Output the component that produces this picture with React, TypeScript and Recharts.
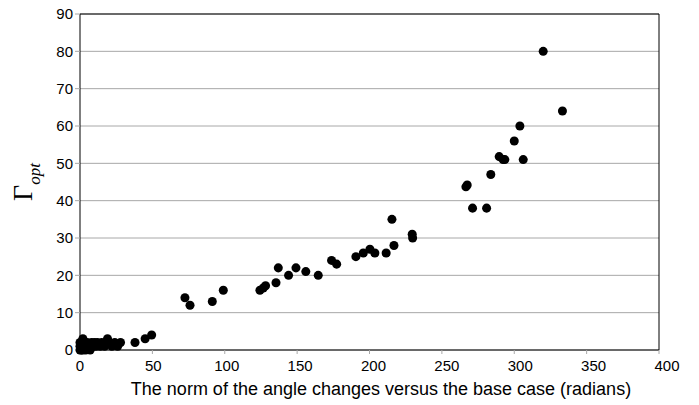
import React from "react";
import {
  ScatterChart,
  Scatter,
  XAxis,
  YAxis,
  ZAxis,
  CartesianGrid,
  ReferenceLine,
} from "recharts";

// Angle-change norm (radians)
const normValues: number[] = [
  0, 0, 0, 1, 1, 2, 2, 3, 4, 5, 6, 7, 8, 9, 10, 11, 12, 14, 15, 17, 19, 20, 22, 24, 26, 28,
  38, 45, 49.5,
  72.5, 76, 91.4, 99,
  124.3, 126.6, 128.2, 135.4, 137, 144.1, 149.2, 156, 164.6,
  173.8, 177.3, 190.6, 195.7, 200.3, 203.7, 211.5, 215.5, 216.9, 229.5, 229.8,
  266.6, 267.5, 271.2, 280.9, 283.8, 289.6, 292.3, 293.5, 300, 303.9, 306.2, 320, 333.3,
];

// Gamma_opt
const gammaValues: number[] = [
  0, 1, 2, 0, 1, 3, 0, 1, 0, 2, 1, 0, 2, 1, 2, 1, 2, 1, 2, 1, 3, 2, 1, 2, 1, 2,
  2, 3, 4,
  14, 12, 13, 16,
  16, 16.6, 17.2, 18, 22, 20, 22, 21, 20,
  24, 23, 25, 26, 27, 26, 26, 35, 28, 31, 30,
  43.7, 44.2, 38, 38, 47, 51.8, 51, 51, 56, 60, 51, 80, 64,
];

const xTicks: number[] = [0, 50, 100, 150, 200, 250, 300, 350, 400];
const yTicks: number[] = [0, 10, 20, 30, 40, 50, 60, 70, 80, 90];

const xTitle = "The norm of the angle changes versus the base case (radians)";

const data = normValues.map((x, i) => ({ x, y: gammaValues[i] }));

const FONT = "'Liberation Sans', Arial, sans-serif";
const SERIF = "'Liberation Serif', 'Times New Roman', serif";

const YLabel = (props: any) => {
  const cx = 32;
  const cy = 182;
  return (
    <text
      x={cx}
      y={cy}
      transform={`rotate(-90, ${cx}, ${cy})`}
      textAnchor="middle"
      fill="#000"
    >
      <tspan fontFamily={SERIF} fontSize={28}>
        Γ
      </tspan>
      <tspan fontFamily={SERIF} fontStyle="italic" fontSize={17} dy={8}>
        opt
      </tspan>
    </text>
  );
};

const XLabel = (props: any) => (
  <text
    x={381}
    y={395}
    textAnchor="middle"
    fill="#000"
    fontSize={18}
    fontFamily={FONT}
  >
    {xTitle}
  </text>
);

const XTick = (props: any) => {
  const { x, y, payload } = props;
  const v = payload.value as number;
  return (
    <text
      x={x + v * 0.02}
      y={y}
      dy="0.71em"
      textAnchor="middle"
      fill="#000"
      fontSize={15}
      fontFamily={FONT}
    >
      {v}
    </text>
  );
};

export default function App() {
  return (
    <div style={{ position: "absolute", left: 0, top: 0, background: "#fff" }}>
      <ScatterChart
        width={699}
        height={405}
        margin={{ top: 14, right: 40, bottom: 25, left: 0 }}
      >
        <CartesianGrid
          horizontal={true}
          vertical={false}
          stroke="#a8a8a8"
          strokeWidth={1}
        />
        <XAxis
          type="number"
          dataKey="x"
          domain={[0, 400]}
          ticks={xTicks}
          interval={0}
          height={30}
          axisLine={{ stroke: "#000", strokeWidth: 1 }}
          tickLine={{ stroke: "#a8a8a8" }}
          tickSize={4}
          tickMargin={6}
          tick={<XTick />}
          label={<XLabel />}
        />
        <YAxis
          type="number"
          dataKey="y"
          domain={[0, 90]}
          ticks={yTicks}
          interval={0}
          width={80}
          axisLine={{ stroke: "#000", strokeWidth: 1 }}
          tickLine={{ stroke: "#a8a8a8" }}
          tickSize={5}
          tickMargin={2}
          tick={{ fill: "#000", fontSize: 15, fontFamily: FONT }}
          label={<YLabel />}
        />
        <ZAxis range={[95, 95]} />
        <ReferenceLine y={90} stroke="#000" strokeWidth={1} />
        <ReferenceLine x={400} stroke="#000" strokeWidth={1} />
        <Scatter data={data} fill="#000" isAnimationActive={false} />
      </ScatterChart>
    </div>
  );
}
